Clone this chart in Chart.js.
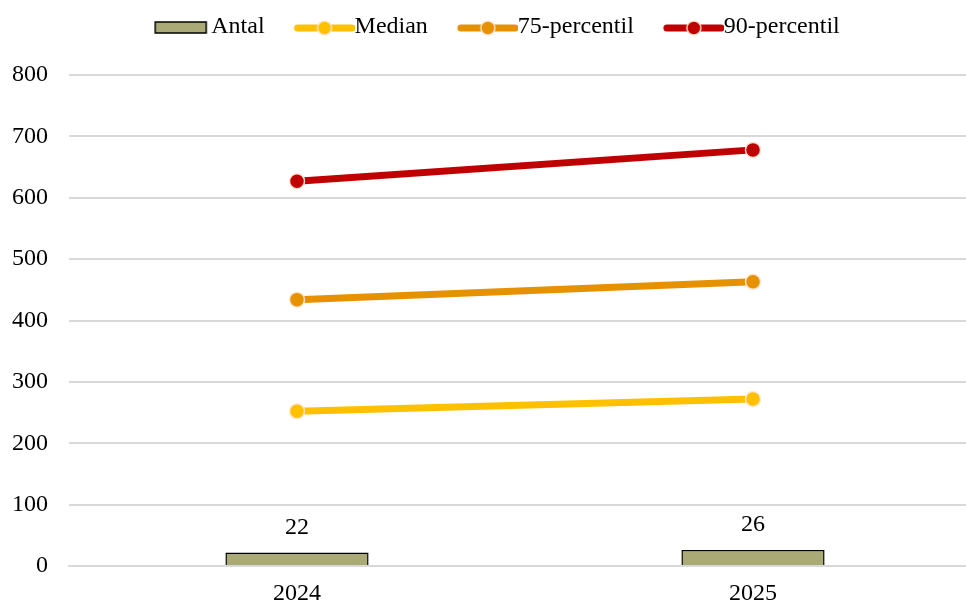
<!DOCTYPE html>
<html>
<head>
<meta charset="utf-8">
<script src="https://cdn.jsdelivr.net/npm/chart.js@4"></script>
<style>
  html, body { margin: 0; padding: 0; background: #fff; overflow: hidden; }
  #wrap { width: 990px; height: 605px; }
</style>
</head>
<body>
<div id="wrap"><canvas id="grafico"></canvas></div>
<script>
const years = ["2024", "2025"];
const antal = [22, 26];
const median = [252, 272];
const p75 = [434, 463];
const p90 = [627, 678];
const yTicks = [0, 100, 200, 300, 400, 500, 600, 700, 800];

const FONT = "'Liberation Serif', 'Times New Roman', serif";
const HALO = "rgba(255,232,215,0.95)";

// simbolos de leyenda (linea con punto / caja)
function legendLine(color) {
  const c = document.createElement("canvas");
  c.width = 92; c.height = 20;
  const g = c.getContext("2d");
  g.strokeStyle = color; g.lineWidth = 7; g.lineCap = "round";
  g.beginPath(); g.moveTo(35, 11); g.lineTo(89, 11); g.stroke();
  g.beginPath(); g.arc(62, 11, 7, 0, Math.PI * 2);
  g.fillStyle = color; g.fill();
  g.strokeStyle = HALO; g.lineWidth = 1.5; g.stroke();
  return c;
}
function legendBox() {
  const c = document.createElement("canvas");
  c.width = 92; c.height = 20;
  const g = c.getContext("2d");
  g.fillStyle = "#A9AA75"; g.fillRect(36, 5, 51, 11);
  g.strokeStyle = "#000"; g.lineWidth = 1.5; g.strokeRect(36, 5, 51, 11);
  return c;
}

// etiquetas sobre las barras + espacio extra bajo la leyenda
const etiquetas = {
  id: "etiquetas",
  afterInit(chart) {
    const lg = chart.legend;
    const fit0 = lg.fit;
    lg.fit = function () { fit0.call(this); this.height += 26; };
  },
  afterDatasetsDraw(chart) {
    const meta = chart.getDatasetMeta(0);
    const ctx = chart.ctx;
    ctx.save();
    ctx.font = "24px " + FONT;
    ctx.fillStyle = "#000";
    ctx.textAlign = "center";
    ctx.textBaseline = "middle";
    meta.data.forEach((bar, i) => ctx.fillText(antal[i], bar.x, bar.y - 25));
    ctx.restore();
  }
};

const puntos = color => ({
  type: "line", borderColor: color, backgroundColor: color, borderWidth: 7,
  pointRadius: 7.5, pointBorderWidth: 1.5, pointBorderColor: HALO,
  pointBackgroundColor: color, pointHoverRadius: 7.5
});

new Chart(document.getElementById("grafico"), {
  data: {
    labels: years,
    datasets: [
      { type: "bar", label: "Antal", data: antal, backgroundColor: "#A9AA75", borderColor: "#000",
        borderWidth: 1.5, barPercentage: 0.314, categoryPercentage: 1, order: 4 },
      Object.assign({ label: "Median", data: median }, puntos("#FFC000")),
      Object.assign({ label: "75-percentil", data: p75 }, puntos("#E69100")),
      Object.assign({ label: "90-percentil", data: p90 }, puntos("#C00000"))
    ]
  },
  options: {
    responsive: true, maintainAspectRatio: false, animation: false,
    layout: { padding: { left: -19, top: 5, right: 0, bottom: 0 } },
    plugins: {
      tooltip: { enabled: false },
      legend: {
        position: "top",
        labels: {
          font: { family: FONT, size: 24 }, color: "#000", padding: 10,
          usePointStyle: true, pointStyleWidth: 68,
          generateLabels(chart) {
            return chart.data.datasets.map((ds, i) => ({
              text: ds.label, datasetIndex: i, fontColor: "#000",
              pointStyle: i === 0 ? legendBox() : legendLine(ds.borderColor),
              hidden: false, lineWidth: 0
            }));
          }
        }
      }
    },
    scales: {
      x: {
        afterFit(axis) { axis.height = 39; },
        grid: { display: false },
        border: { display: true, color: "#d9d9d9", width: 2 },
        ticks: { font: { family: FONT, size: 24, lineHeight: 1 }, color: "#000", padding: 8 }
      },
      y: {
        min: 0, max: 800,
        afterFit(axis) { axis.width = 88; },
        afterBuildTicks(axis) { axis.ticks = yTicks.map(v => ({ value: v })); },
        grid: { color: "#d9d9d9", lineWidth: 2, drawTicks: false },
        border: { display: false },
        ticks: { font: { family: FONT, size: 24 }, color: "#000", padding: 21 }
      }
    }
  },
  plugins: [etiquetas]
});
</script>
</body>
</html>
